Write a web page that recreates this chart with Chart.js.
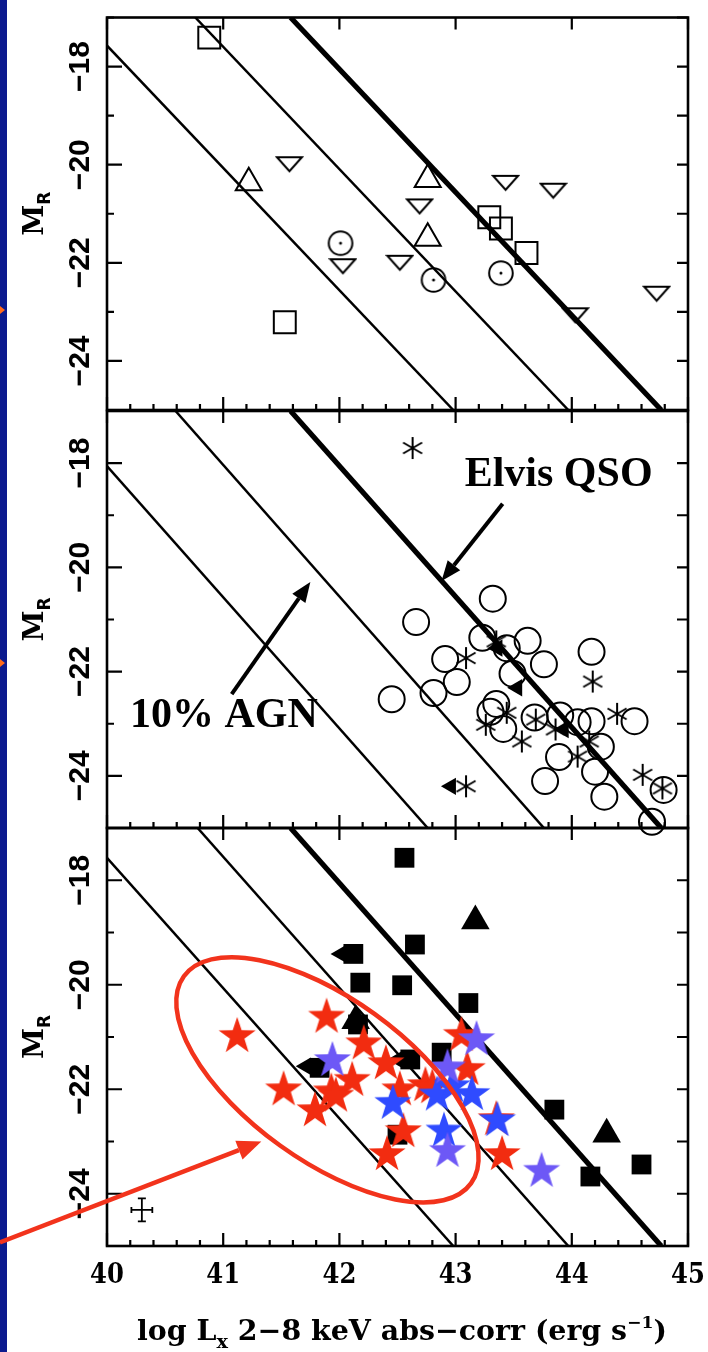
<!DOCTYPE html>
<html>
<head>
<meta charset="utf-8">
<script src="https://cdn.jsdelivr.net/npm/chart.js@4.4.1/dist/chart.umd.min.js"></script>
<style>
  html, body { margin: 0; padding: 0; background: #fff; }
  #page { position: relative; width: 708px; height: 1352px; overflow: hidden; background: #fff; }
  #page canvas { position: absolute; left: 0; top: 0; }
  #edge { position: absolute; left: 0; top: 0; width: 7px; height: 1352px; background: #0b1a8e; }
  .nub { position: absolute; left: 0; width: 0; height: 0;
         border-top: 4px solid transparent; border-bottom: 4px solid transparent;
         border-left: 5px solid #ff6a1a; }
</style>
</head>
<body>
<div id="page">
  <div id="edge"></div>
  <div class="nub" style="top:306px"></div>
  <div class="nub" style="top:659px"></div>
  <canvas id="panelTop" width="708" height="1352"></canvas>
  <canvas id="panelMid" width="708" height="1352"></canvas>
  <canvas id="panelBot" width="708" height="1352"></canvas>
</div>
<script>
const xTickLabels = [40, 41, 42, 43, 44, 45];
const yTickLabels = [-18, -20, -22, -24];

// model lines: log Lx where each line meets M_R = -17 and M_R = -25
const topLineAt17 = [39.77, 40.76, 41.58];
const topLineAt25 = [42.98, 43.97, 44.77];
const midLineAt17 = [39.58, 40.59, 41.58];
const midLineAt25 = [42.76, 43.76, 44.77];
const botLineAt17 = [39.77, 40.78, 41.58];
const botLineAt25 = [42.98, 43.97, 44.77];

// top panel
const topSquareX = [40.88, 43.29, 43.39, 43.61, 41.53];
const topSquareM = [-17.41, -21.07, -21.30, -21.80, -23.21];
const topTriUpX = [41.22, 42.76, 42.76];
const topTriUpM = [-20.37, -20.30, -21.50];
const topTriDownX = [41.57, 42.69, 42.03, 42.52, 43.43, 43.84, 44.03, 44.73];
const topTriDownM = [-19.99, -20.85, -22.07, -22.00, -20.37, -20.53, -23.07, -22.63];
const topDotX = [42.01, 42.81, 43.39];
const topDotM = [-21.60, -22.35, -22.21];

// middle panel
const midCircleX = [43.32, 42.66, 43.23, 43.62, 42.91, 43.76, 44.17, 43.49, 43.01, 42.81, 42.45, 43.35, 43.30,
                    43.41, 43.68, 43.90, 44.05, 44.17, 44.54, 44.25, 43.89, 43.77, 44.20, 44.28, 44.79, 44.69, 43.44];
const midCircleM = [-20.60, -21.05, -21.35, -21.41, -21.76, -21.86, -21.62, -22.04, -22.20, -22.41, -22.53, -22.62, -22.77,
                    -23.10, -22.88, -22.84, -22.97, -22.95, -22.95, -23.44, -23.64, -24.10, -23.92, -24.40, -24.27, -24.88, -21.55];
const midStarX = [42.63, 43.09, 43.35, 43.26, 43.44, 43.57, 43.69, 43.86, 44.05, 44.15, 44.39, 44.61, 44.78, 43.09, 44.18];
const midStarM = [-17.71, -21.74, -21.42, -23.02, -22.79, -23.34, -22.92, -23.11, -23.63, -23.34, -22.81, -23.98, -24.24, -24.20, -22.19];
const midLimitX = [42.96, 43.53, 43.93, 43.36];
const midLimitM = [-24.20, -22.31, -23.11, -21.55];

// bottom panel
const botSquareX = [42.56, 42.65, 42.12, 42.18, 42.54, 43.11, 42.16, 41.83, 42.61, 42.88, 42.50, 43.85, 44.16, 44.60];
const botSquareM = [-17.57, -19.23, -19.41, -19.96, -20.01, -20.35, -20.76, -21.59, -21.43, -21.30, -22.87, -22.39, -23.67, -23.44];
const botTriX = [43.17, 44.30, 42.14];
const botTriM = [-18.78, -22.86, -20.69];
const botLimitX = [42.01, 41.71, 42.50];
const botLimitM = [-19.41, -21.56, -21.43];
const redStarX = [41.12, 41.89, 41.52, 41.79, 41.93, 42.11, 42.21, 42.40, 42.52, 42.74, 42.55, 42.41, 43.05, 43.10, 43.35, 43.40, 42.80, 41.97];
const redStarM = [-20.96, -20.59, -21.98, -22.38, -22.02, -21.80, -21.10, -21.48, -21.98, -21.90, -22.78, -23.22, -20.94, -21.59, -22.55, -23.22, -21.94, -22.10];
const blueStarX = [42.46, 42.84, 43.14, 42.90, 43.36, 42.97];
const blueStarM = [-22.24, -22.08, -22.07, -22.77, -22.57, -21.92];
const violetStarX = [41.94, 42.93, 43.18, 42.93, 43.74];
const violetStarM = [-21.42, -21.56, -21.02, -23.16, -23.54];
const errBarX = [40.30], errBarM = [-24.31], errBarDx = [0.09], errBarDm = [0.22];

const pts = (xs, ms) => xs.map((x, i) => ({x, y: ms[i]}));

// small bitmaps for the marker shapes Chart.js lacks
function marker(w, h, draw) {
  const c = document.createElement('canvas');
  c.width = w; c.height = h;
  const g = c.getContext('2d');
  draw(g, w / 2, h / 2);
  return c;
}
function star(color) {
  return marker(42, 42, (g, cx, cy) => {
    g.beginPath();
    for (let k = 0; k < 10; k++) {
      const r = k % 2 ? 7.6 : 19.5;
      const a = -Math.PI / 2 + k * Math.PI / 5;
      g.lineTo(cx + r * Math.cos(a), cy + 1.5 + r * Math.sin(a));
    }
    g.closePath();
    g.fillStyle = color;
    g.fill();
  });
}
const flatTriDown = marker(29, 18, (g) => {
  g.beginPath();
  g.moveTo(2, 2); g.lineTo(27, 2); g.lineTo(14.5, 16); g.closePath();
  g.lineWidth = 2; g.strokeStyle = '#000'; g.stroke();
});
const dotCircle = marker(28, 28, (g, cx, cy) => {
  g.beginPath(); g.arc(cx, cy, 11.8, 0, Math.PI * 2);
  g.lineWidth = 2; g.strokeStyle = '#000'; g.stroke();
  g.beginPath(); g.arc(cx, cy, 1.5, 0, Math.PI * 2); g.fillStyle = '#000'; g.fill();
});
const asterisk = marker(26, 26, (g, cx, cy) => {
  g.lineWidth = 2; g.strokeStyle = '#000'; g.beginPath();
  [90, 30, 150].forEach(d => {
    const a = d * Math.PI / 180;
    g.moveTo(cx - 11 * Math.cos(a), cy - 11 * Math.sin(a));
    g.lineTo(cx + 11 * Math.cos(a), cy + 11 * Math.sin(a));
  });
  g.stroke();
});
const redStar = star('#f22c10');
const blueStar = star('#2f4bff');
const violetStar = star('#6d58f6');

function modelLines(at17, at25) {
  return at17.map((x, i) => ({
    data: [{x, y: -17}, {x: at25[i], y: -25}],
    showLine: true, pointRadius: 0, borderColor: '#000',
    borderWidth: i === 2 ? 5.2 : 2.5, clip: 0
  }));
}
const open = (style, r, data) => ({data, pointStyle: style, pointRadius: r,
  pointBackgroundColor: 'transparent', pointBorderColor: '#000', pointBorderWidth: 2});
const solid = (style, r, data, rot) => ({data, pointStyle: style, pointRadius: r, pointRotation: rot || 0,
  pointBackgroundColor: '#000', pointBorderColor: '#000', pointBorderWidth: 0});
const image = (img, data) => ({data, pointStyle: img, pointRadius: 10});

function drawArrow(ctx, x0, y0, x1, y1, color, lw, len, half) {
  const a = Math.atan2(y1 - y0, x1 - x0);
  const bx = x1 - len * Math.cos(a), by = y1 - len * Math.sin(a);
  ctx.strokeStyle = color; ctx.fillStyle = color; ctx.lineWidth = lw;
  ctx.beginPath(); ctx.moveTo(x0, y0); ctx.lineTo(bx, by); ctx.stroke();
  ctx.beginPath(); ctx.moveTo(x1, y1);
  ctx.lineTo(bx - half * Math.sin(a), by + half * Math.cos(a));
  ctx.lineTo(bx + half * Math.sin(a), by - half * Math.cos(a));
  ctx.closePath(); ctx.fill();
}

// text pieces laid out along one baseline, optionally squeezed sideways
function drawRich(ctx, parts, cx, base, sx) {
  let w = 0;
  parts.forEach(p => { ctx.font = p.font; p.w = ctx.measureText(p.t).width; w += p.w; });
  if (typeof sx === 'function') sx = sx(w);
  ctx.save();
  ctx.translate(cx - w * sx / 2, base);
  ctx.scale(sx, 1);
  let x = 0;
  parts.forEach(p => { ctx.font = p.font; ctx.fillText(p.t, x, p.dy || 0); x += p.w; });
  ctx.restore();
}

const SERIF = '"DejaVu Serif", serif';
const annotations = {
  panelMid: {
    labels: [{t: 'Elvis QSO', x: 43.078, m: -18.44}, {t: '10% AGN', x: 40.198, m: -23.07}],
    arrows: [{from: [43.405, -18.78], to: [42.879, -20.26]}, {from: [41.073, -22.43], to: [41.75, -20.28]}]
  },
  panelBot: {
    ellipse: {x: 41.897, m: -21.82, rx: 177, ry: 81, angle: 35.8},
    redArrow: {from: [39.078, -24.93], to: [41.328, -23.0]},
    xAxis: true
  }
};

const axesFrame = {
  id: 'axesFrame',
  afterDatasetsDraw(chart) {
    const {ctx, chartArea: a, scales: {x, y}} = chart;
    const deco = annotations[chart.canvas.id] || {};
    ctx.save();
    ctx.strokeStyle = '#000';
    ctx.fillStyle = '#000';

    // error bar
    if (deco.xAxis) {
      ctx.lineWidth = 1.8;
      ctx.beginPath();
      errBarX.forEach((ex, i) => {
        const px = x.getPixelForValue(ex), py = y.getPixelForValue(errBarM[i]);
        const l = x.getPixelForValue(ex - errBarDx[i]), r = x.getPixelForValue(ex + errBarDx[i]);
        const t = y.getPixelForValue(errBarM[i] + errBarDm[i]), b = y.getPixelForValue(errBarM[i] - errBarDm[i]);
        ctx.moveTo(l, py); ctx.lineTo(r, py);
        ctx.moveTo(px, t); ctx.lineTo(px, b);
        ctx.moveTo(px - 4, t); ctx.lineTo(px + 4, t);
        ctx.moveTo(px - 4, b); ctx.lineTo(px + 4, b);
        ctx.moveTo(l, py - 3); ctx.lineTo(l, py + 3);
        ctx.moveTo(r, py - 3); ctx.lineTo(r, py + 3);
      });
      ctx.stroke();
    }

    // frame and inward ticks
    ctx.lineWidth = 2.6;
    ctx.strokeRect(a.left, a.top, a.right - a.left, a.bottom - a.top);
    ctx.lineWidth = 2.2;
    ctx.beginPath();
    for (let v = -25; v <= -17; v++) {
      const py = y.getPixelForValue(v);
      ctx.moveTo(a.left, py); ctx.lineTo(a.left + (v % 2 === 0 ? 15 : 7), py);
      ctx.moveTo(a.right, py); ctx.lineTo(a.right - 11, py);
    }
    for (let i = 0; i <= 25; i++) {
      const px = x.getPixelForValue(40 + i * 0.2);
      ctx.moveTo(px, a.bottom); ctx.lineTo(px, a.bottom - (i % 5 === 0 ? 13 : 6));
      if (i % 5 === 0) { ctx.moveTo(px, a.top); ctx.lineTo(px, a.top + 12); }
    }
    ctx.stroke();

    // rotated y tick labels and the M_R title
    ctx.textBaseline = 'alphabetic';
    ctx.textAlign = 'center';
    yTickLabels.forEach(v => {
      ctx.save();
      ctx.translate(89, y.getPixelForValue(v));
      ctx.rotate(-Math.PI / 2);
      ctx.font = 'bold 30px "Liberation Sans", sans-serif';
      ctx.fillText('\u2212' + Math.abs(v), 0, 0);
      ctx.restore();
    });
    ctx.save();
    ctx.translate(43, (a.top + a.bottom) / 2);
    ctx.rotate(-Math.PI / 2);
    ctx.textAlign = 'left';
    drawRich(ctx, [{t: 'M', font: 'bold 28px ' + SERIF}, {t: 'R', font: 'bold 17px "DejaVu Sans", sans-serif', dy: 7}], 0, 0, 1);
    ctx.restore();

    if (deco.labels) {
      ctx.textAlign = 'left';
      ctx.font = 'bold 42px "Liberation Serif", serif';
      deco.labels.forEach(l => ctx.fillText(l.t, x.getPixelForValue(l.x), y.getPixelForValue(l.m)));
    }
    if (deco.arrows) {
      deco.arrows.forEach(r => drawArrow(ctx,
        x.getPixelForValue(r.from[0]), y.getPixelForValue(r.from[1]),
        x.getPixelForValue(r.to[0]), y.getPixelForValue(r.to[1]), '#000', 4, 20, 8));
    }
    if (deco.ellipse) {
      const e = deco.ellipse;
      ctx.strokeStyle = '#f2331c';
      ctx.lineWidth = 4.5;
      ctx.beginPath();
      ctx.ellipse(x.getPixelForValue(e.x), y.getPixelForValue(e.m), e.rx, e.ry, e.angle * Math.PI / 180, 0, Math.PI * 2);
      ctx.stroke();
      const r = deco.redArrow;
      drawArrow(ctx, x.getPixelForValue(r.from[0]), y.getPixelForValue(r.from[1]),
        x.getPixelForValue(r.to[0]), y.getPixelForValue(r.to[1]), '#f2331c', 4.5, 24, 10);
    }
    if (deco.xAxis) {
      ctx.fillStyle = '#000';
      ctx.textAlign = 'left';
      xTickLabels.forEach(v => drawRich(ctx, [{t: String(v), font: 'bold 27px ' + SERIF}],
        x.getPixelForValue(v), a.bottom + 37, 0.9));
      drawRich(ctx, [
        {t: 'log L', font: 'bold 28px ' + SERIF},
        {t: 'x', font: 'bold 19px ' + SERIF, dy: 8},
        {t: ' 2\u22128 keV abs\u2212corr (erg s', font: 'bold 28px ' + SERIF},
        {t: '\u22121', font: 'bold 17px ' + SERIF, dy: -12},
        {t: ')', font: 'bold 28px ' + SERIF}
      ], 402, 1340, w => 530 / w);
    }
    ctx.restore();
  }
};

function makePanel(id, top, bottom, datasets) {
  const n = datasets.length;
  return new Chart(document.getElementById(id), {
    type: 'scatter',
    data: {datasets: datasets.map((d, i) => Object.assign({order: n - i, clip: false}, d))},
    options: {
      responsive: false,
      animation: false,
      events: [],
      layout: {padding: {left: 107, right: 20, top, bottom: 1352 - bottom}},
      scales: {
        x: {type: 'linear', min: 40, max: 45, display: false},
        y: {type: 'linear', min: -25, max: -17, display: false}
      },
      plugins: {legend: {display: false}, tooltip: {enabled: false}}
    },
    plugins: [axesFrame]
  });
}

makePanel('panelTop', 10, 410, [
  ...modelLines(topLineAt17, topLineAt25),
  open('rect', 15.5, pts(topSquareX, topSquareM)),
  open('triangle', 15, pts(topTriUpX, topTriUpM)),
  image(flatTriDown, pts(topTriDownX, topTriDownM)),
  image(dotCircle, pts(topDotX, topDotM))
]);

makePanel('panelMid', 411, 828, [
  ...modelLines(midLineAt17, midLineAt25),
  open('circle', 13, pts(midCircleX, midCircleM)),
  image(asterisk, pts(midStarX, midStarM)),
  solid('triangle', 10, pts(midLimitX, midLimitM), -90)
]);

makePanel('panelBot', 828, 1246, [
  ...modelLines(botLineAt17, botLineAt25),
  solid('rect', 14, pts(botSquareX, botSquareM)),
  solid('triangle', 10, pts(botLimitX, botLimitM), -90),
  solid('triangle', 16.5, pts(botTriX, botTriM)),
  image(redStar, pts(redStarX, redStarM)),
  image(blueStar, pts(blueStarX, blueStarM)),
  image(violetStar, pts(violetStarX, violetStarM))
]);
</script>
</body>
</html>
